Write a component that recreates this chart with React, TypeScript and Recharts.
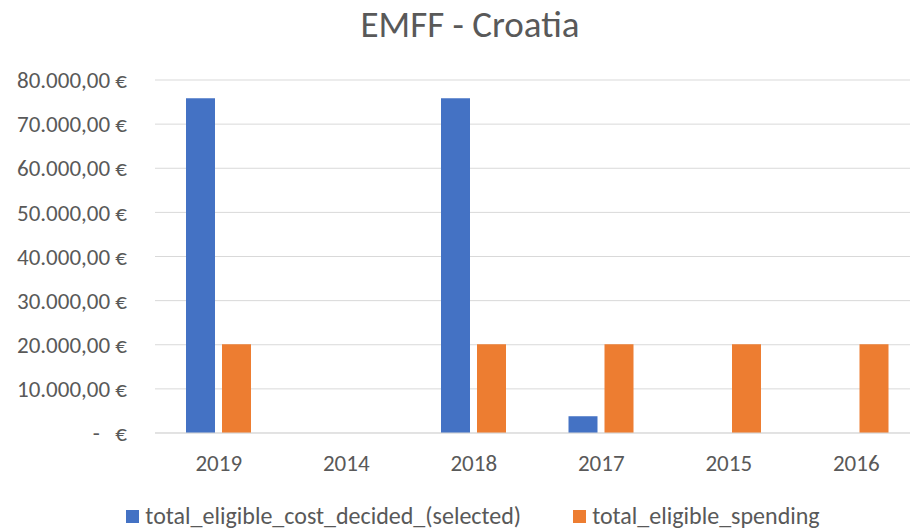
import React from 'react';
import { BarChart, Bar, XAxis, YAxis, CartesianGrid } from 'recharts';

const categories = ['2019', '2014', '2018', '2017', '2015', '2016'];
const costDecided = [75850, 0, 75850, 3800, 0, 0];
const spending = [20100, 0, 20100, 20100, 20100, 20100];
const yTicks = [0, 10000, 20000, 30000, 40000, 50000, 60000, 70000, 80000];

const BLUE = '#4472C4';
const ORANGE = '#ED7D31';
const TEXT = '#595959';
const GRID = '#D9D9D9';
const FONT = 'Carlito, Calibri, Lato, sans-serif';

const data = categories.map((c, i) => ({
  year: c,
  total_eligible_cost_decided_selected: costDecided[i],
  total_eligible_spending: spending[i],
}));

const fmt = (v: number) => {
  if (v === 0) return '-\u00A0\u00A0\u00A0€';
  const s = Math.round(v).toString().replace(/\B(?=(\d{3})+(?!\d))/g, '.');
  return `${s},00 €`;
};

export default function App() {
  return (
    <div style={{ position: 'fixed', left: 0, top: 0, width: 910, height: 531, overflow: 'hidden', background: '#fff' }}>
      <div style={{ position: 'absolute', left: 0, top: 0, width: 940, height: 531 }}>
        <div
          style={{
            position: 'absolute', left: 0, top: 2, width: 940, textAlign: 'center',
            fontFamily: FONT, fontSize: 37, color: TEXT, lineHeight: '46px',
          }}
        >
          EMFF - Croatia
        </div>
        <BarChart
          width={940}
          height={531}
          data={data}
          margin={{ top: 80, right: 20, bottom: 68, left: 0 }}
          barGap={7}
          barSize={29}
        >
          <CartesianGrid vertical={false} stroke={GRID} strokeWidth={1} />
          <XAxis
            dataKey="year"
            axisLine={{ stroke: GRID }}
            tickLine={false}
            tickMargin={16}
            tick={{ fill: TEXT, fontSize: 23, fontFamily: FONT }}
            height={30}
          />
          <YAxis
            width={155}
            domain={[0, 80000]}
            ticks={yTicks}
            interval={0}
            axisLine={false}
            tickLine={false}
            tickMargin={22}
            tickFormatter={fmt}
            tick={{ fill: TEXT, fontSize: 23, fontFamily: FONT }}
          />
          <Bar dataKey="total_eligible_cost_decided_selected" fill={BLUE} isAnimationActive={false} />
          <Bar dataKey="total_eligible_spending" fill={ORANGE} isAnimationActive={false} />
        </BarChart>
        <div
          style={{
            position: 'absolute', left: 0, top: 502, width: 946, display: 'flex', justifyContent: 'center',
            alignItems: 'center', fontFamily: FONT, fontSize: 24, color: TEXT, lineHeight: '28px',
          }}
        >
          <span style={{ display: 'inline-block', width: 13, height: 13, background: BLUE, marginRight: 6 }} />
          <span>total_eligible_cost_decided_(selected)</span>
          <span style={{ display: 'inline-block', width: 13, height: 13, background: ORANGE, marginLeft: 52, marginRight: 6 }} />
          <span>total_eligible_spending</span>
        </div>
      </div>
    </div>
  );
}
